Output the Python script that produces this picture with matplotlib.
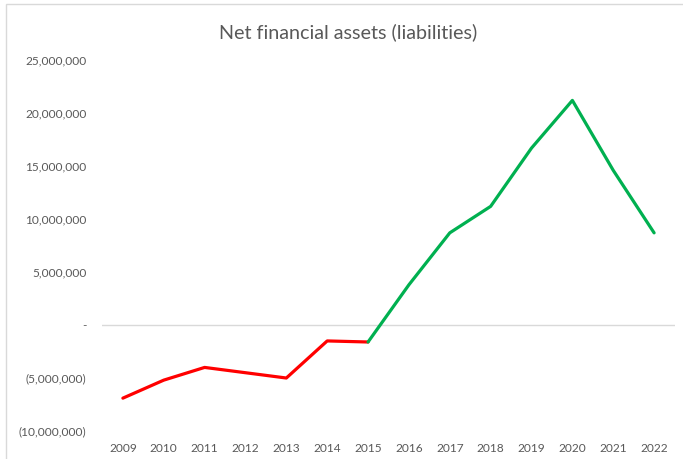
import matplotlib.pyplot as plt
from matplotlib.patches import Rectangle
from matplotlib.ticker import FuncFormatter

# Net financial assets (liabilities) by year
years = ['2009', '2010', '2011', '2012', '2013', '2014', '2015',
         '2016', '2017', '2018', '2019', '2020', '2021', '2022']
net_assets = [-6.9e6, -5.2e6, -4.0e6, -4.5e6, -5.0e6, -1.5e6, -1.6e6,
              3.8e6, 8.7e6, 11.2e6, 16.7e6, 21.2e6, 14.6e6, 8.7e6]
split_year = '2015'  # red up to here, green after

yticks = [-10e6, -5e6, 0, 5e6, 10e6, 15e6, 20e6, 25e6]

grey_text = '#595959'
plt.rcParams['font.family'] = ['Lato', 'DejaVu Sans']

fig = plt.figure(figsize=(6.83, 4.59), dpi=100)
ax = fig.add_axes([0.150, 0.061, 0.8376, 0.808])

x = list(range(len(years)))
k = years.index(split_year)
ax.plot(x[:k + 1], net_assets[:k + 1], color='#FF0000', lw=2.3,
        solid_joinstyle='round', solid_capstyle='round', zorder=3)
ax.plot(x[k:], net_assets[k:], color='#00B050', lw=2.3,
        solid_joinstyle='round', solid_capstyle='round', zorder=3)

# zero line
ax.axhline(0, color='#D9D9D9', lw=1.0, zorder=1)

ax.set_xlim(-0.5, len(years) - 0.5)
ax.set_ylim(-10e6, 25e6)
ax.set_yticks(yticks)


def fmt(v, pos):
    if v == 0:
        return '-'
    if v < 0:
        return '({:,.0f})'.format(-v)
    return '{:,.0f}'.format(v)


ax.yaxis.set_major_formatter(FuncFormatter(fmt))
ax.set_xticks(x)
ax.set_xticklabels(years)
ax.tick_params(axis='both', length=0, colors=grey_text, labelsize=8.6)
ax.tick_params(axis='y', pad=11.5)
ax.tick_params(axis='x', pad=8.5)
for s in ax.spines.values():
    s.set_visible(False)

# title centred on the whole chart frame
fig.text(0.51, 1 - 32 / 459, 'Net financial assets (liabilities)',
         color=grey_text, fontsize=14.2, ha='center', va='center')

# chart frame
fig.patches.append(Rectangle((6 / 683, -0.01), 1.0, 1 - 4 / 459 + 0.01,
                             transform=fig.transFigure, fill=False,
                             edgecolor='#D9D9D9', lw=1.0))

fig.savefig('out.png', dpi=100)
